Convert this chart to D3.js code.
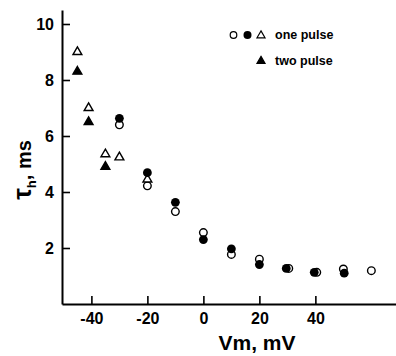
<!DOCTYPE html>
<html>
<head>
<meta charset="utf-8">
<script src="https://cdn.jsdelivr.net/npm/d3@7"></script>
<style>
  html, body { margin: 0; padding: 0; background: #fff; }
  svg { display: block; font-family: "Liberation Sans", Arial, sans-serif; }
</style>
</head>
<body>
<svg id="chart" width="396" height="356"></svg>
<script>
// Inactivation time constant vs membrane potential
const oneOpenCircleV   = [-30, -20, -10, 0, 10, 20, 30.5, 40.5, 50, 60];
const oneOpenCircleTau = [6.4, 4.22, 3.3, 2.55, 1.77, 1.6, 1.27, 1.13, 1.25, 1.19];

const oneFilledCircleV   = [-30, -20, -10, 0, 10, 20, 29.6, 39.6, 50.3];
const oneFilledCircleTau = [6.63, 4.69, 3.63, 2.3, 1.97, 1.41, 1.27, 1.13, 1.1];

const oneOpenTriangleV   = [-45, -41, -35, -30, -20];
const oneOpenTriangleTau = [9.0, 7.0, 5.35, 5.24, 4.45];

const twoFilledTriangleV   = [-45, -41, -35];
const twoFilledTriangleTau = [8.3, 6.5, 4.9];

const xTicks = [-40, -20, 0, 20, 40];
const yTicks = [2, 4, 6, 8, 10];

const svg = d3.select("#chart");

const x = d3.scaleLinear().domain([-50.5, 68.8]).range([62, 396]);
const y = d3.scaleLinear().domain([0, 10.5]).range([304, 10]);

// Axes with inward ticks
const xAxis = d3.axisBottom(x).tickValues(xTicks).tickFormat(d3.format("d"))
  .tickSizeInner(-8).tickSizeOuter(0).tickPadding(9);
const yAxis = d3.axisLeft(y).tickValues(yTicks).tickFormat(d3.format("d"))
  .tickSizeInner(-8).tickSizeOuter(0).tickPadding(8);

const gx = svg.append("g").attr("transform", `translate(0,${y(0)})`).call(xAxis);
const gy = svg.append("g").attr("transform", `translate(${x.range()[0]},0)`).call(yAxis);

[gx, gy].forEach(g => {
  g.select(".domain").attr("stroke", "#000").attr("stroke-width", 2);
  g.selectAll(".tick line").attr("stroke", "#000").attr("stroke-width", 1.6);
  g.selectAll(".tick text")
    .attr("fill", "#000")
    .style("font-size", "16px")
    .style("font-weight", "bold")
    .style("font-family", "'Liberation Sans', Arial, sans-serif");
});
gx.selectAll(".tick text").text(d => d < 0 ? "-" + Math.abs(d) : d);

// Axis titles
svg.append("text")
  .attr("x", 257).attr("y", 350)
  .attr("text-anchor", "middle")
  .style("font-size", "21px")
  .style("font-weight", "bold")
  .text("Vm, mV");

const yTitle = svg.append("text")
  .attr("transform", "translate(31,170) rotate(-90)")
  .attr("text-anchor", "middle")
  .style("font-weight", "bold");
yTitle.append("tspan").style("font-size", "26px").text("τ");
yTitle.append("tspan").style("font-size", "13px").attr("dy", 5).text("h");
yTitle.append("tspan").style("font-size", "20px").attr("dy", -5).text(", ms");

// Markers
const zip = (a, b) => a.map((v, i) => [v, b[i]]);
const plot = svg.append("g");
const tri = d3.symbol().type(d3.symbolTriangle).size(34);

plot.selectAll(".oc").data(zip(oneOpenCircleV, oneOpenCircleTau)).join("circle")
  .attr("cx", d => x(d[0])).attr("cy", d => y(d[1])).attr("r", 3.8)
  .attr("fill", "#fff").attr("stroke", "#000").attr("stroke-width", 1.4);

plot.selectAll(".ot").data(zip(oneOpenTriangleV, oneOpenTriangleTau)).join("path")
  .attr("d", tri).attr("transform", d => `translate(${x(d[0])},${y(d[1])})`)
  .attr("fill", "#fff").attr("stroke", "#000").attr("stroke-width", 1.4);

plot.selectAll(".ft").data(zip(twoFilledTriangleV, twoFilledTriangleTau)).join("path")
  .attr("d", tri).attr("transform", d => `translate(${x(d[0])},${y(d[1])})`)
  .attr("fill", "#000").attr("stroke", "#000").attr("stroke-width", 1.4);

plot.selectAll(".fc").data(zip(oneFilledCircleV, oneFilledCircleTau)).join("circle")
  .attr("cx", d => x(d[0])).attr("cy", d => y(d[1])).attr("r", 4.4)
  .attr("fill", "#000");

// Legend
const leg = svg.append("g");
const legTri = d3.symbol().type(d3.symbolTriangle).size(28);
leg.append("circle").attr("cx", 233.5).attr("cy", 35).attr("r", 3.3)
  .attr("fill", "#fff").attr("stroke", "#000").attr("stroke-width", 1.2);
leg.append("circle").attr("cx", 247.5).attr("cy", 35).attr("r", 4).attr("fill", "#000");
leg.append("path").attr("d", legTri).attr("transform", "translate(261,35.5)")
  .attr("fill", "#fff").attr("stroke", "#000").attr("stroke-width", 1.2);
leg.append("path").attr("d", legTri).attr("transform", "translate(261,61)")
  .attr("fill", "#000").attr("stroke", "#000").attr("stroke-width", 1.2);
leg.append("text").attr("x", 275).attr("y", 39).style("font-size", "12.5px")
  .style("font-weight", "bold").text("one pulse");
leg.append("text").attr("x", 275).attr("y", 64.5).style("font-size", "12.5px")
  .style("font-weight", "bold").text("two pulse");
</script>
</body>
</html>
